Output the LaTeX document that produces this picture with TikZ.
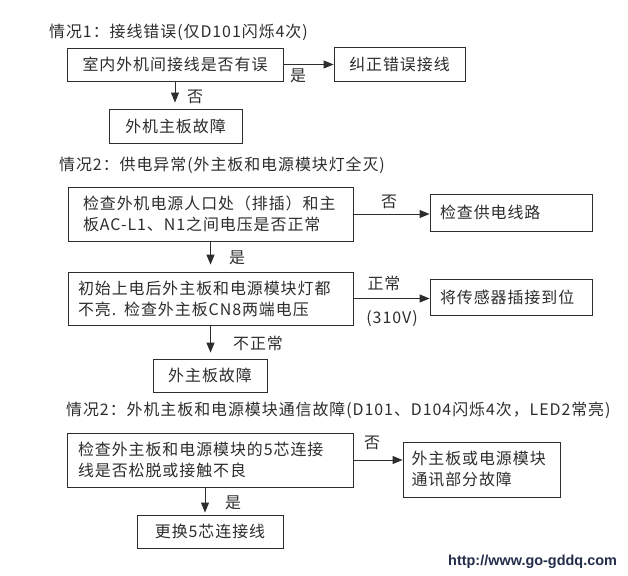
\documentclass[tikz,border=0pt]{standalone}
\usepackage{fontspec}
\setmainfont{Noto Sans CJK SC}[LetterSpace=6]
\newfontfamily\urlfont{Liberation Sans}
\usetikzlibrary{arrows.meta,calc}
\definecolor{ink}{RGB}{45,45,45}
\definecolor{urlc}{RGB}{35,45,75}
\begin{document}
\begin{tikzpicture}[x=1bp,y=-1bp,
  every node/.style={text=ink},
  box/.style={draw=ink,line width=0.9bp,inner ysep=0bp,inner xsep=0bp,font=\fontsize{16}{21}\selectfont},
  lbox/.style={box,align=left},
  lbl/.style={font=\fontsize{16}{20}\selectfont,inner sep=0bp},
  ttl/.style={anchor=west,inner sep=0bp,font=\fontsize{16}{20}\selectfont},
  arr/.style={draw=ink,line width=0.9bp,-{Triangle[length=10bp,width=8bp]}}]
\useasboundingbox[fill=white] (0,0) rectangle (628,576);

% ---------- Section 1 ----------
\node[ttl] (t1) at (49,32) {情况1：接线错误(仅D101闪烁4次)};
\node[box,minimum width=216bp,minimum height=33bp] (b1) at (175,64.5) {室内外机间接线是否有误};
\node[box,minimum width=131bp,minimum height=34bp] (b2) at (399.5,64) {纠正错误接线};
\node[box,minimum width=133bp,minimum height=34bp] (b3) at (175.5,126) {外机主板故障};
\draw[arr] (b1.east) -- (b2.west |- b1.east);
\draw[arr,shorten >=6bp] (b1.south) -- (b1.south |- b3.north);
\node[lbl] (l1) at (298,76) {是};
\node[lbl] (l2) at (195,97) {否};

% ---------- Section 2 ----------
\node[ttl] (t2) at (59,165) {情况2：供电异常(外主板和电源模块灯全灭)};
\node[lbox,minimum width=285bp,minimum height=54bp,text width=255bp,inner xsep=15bp] (A) at (210.5,214)
  {检查外机电源人口处（排插）和主\\板AC-L1、N1之间电压是否正常};
\node[lbox,minimum width=162bp,minimum height=37bp,text width=142bp,inner xsep=10bp] (A2) at (511,212.5) {检查供电线路};
\node[lbox,minimum width=285bp,minimum height=53bp,text width=265bp,inner xsep=10bp] (B) at (210.5,298.5)
  {初始上电后外主板和电源模块灯都\\不亮. 检查外主板CN8两端电压};
\node[lbox,minimum width=162bp,minimum height=36bp,text width=142bp,inner xsep=10bp] (B2) at (511,297) {将传感器插接到位};
\node[box,minimum width=114bp,minimum height=33bp] (B3) at (210,375.5) {外主板故障};
\draw[arr] (A.east) -- (A.east -| A2.west);
\draw[arr,shorten >=7bp] (A.south) -- (A.south |- B.north);
\draw[arr] (B.east) -- (B.east -| B2.west);
\draw[arr,shorten >=6bp] (B.south) -- (B.south |- B3.north);
\node[lbl] (l3) at (389,202) {否};
\node[lbl] (l4) at (237,258) {是};
\node[lbl] (l5) at (384,283) {正常};
\node[lbl] (l6) at (392,319) {(310V)};
\node[lbl] (l7) at (258,343) {不正常};

% ---------- Section 3 ----------
\node[ttl] (t3) at (66,410) {情况2：外机主板和电源模块通信故障(D101、D104闪烁4次，LED2常亮)};
\node[lbox,minimum width=286bp,minimum height=54bp,text width=264bp,inner xsep=11bp] (C) at (210,460)
  {检查外主板和电源模块的5芯连接\\线是否松脱或接触不良};
\node[lbox,minimum width=157bp,minimum height=55bp,text width=140bp,inner xsep=8.5bp] (D) at (481.5,469.5)
  {外主板或电源模块\\通讯部分故障};
\node[box,minimum width=146bp,minimum height=33bp] (E) at (210,531.5) {更换5芯连接线};
\draw[arr] (C.east) -- (C.east -| D.west);
\draw[arr,shorten >=2bp] ([xshift=-5bp]C.south) -- ([xshift=-5bp]C.south |- E.north);
\node[lbl] (l8) at (372,443) {否};
\node[lbl] (l9) at (233,503) {是};

\node[anchor=west,inner sep=0bp,font=\urlfont\bfseries\fontsize{14.5}{16}\selectfont,text=urlc] (url) at (448,562) {http://www.go-gddq.com};
\end{tikzpicture}
\end{document}
